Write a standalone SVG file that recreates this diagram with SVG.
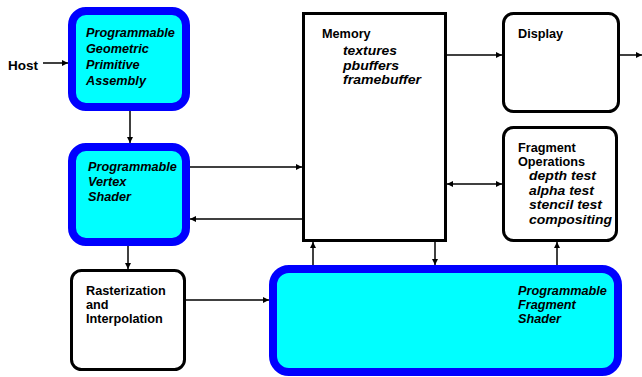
<svg xmlns="http://www.w3.org/2000/svg" width="642" height="377" viewBox="0 0 642 377">
  <defs>
    <marker id="ah" viewBox="0 0 10 10" refX="10" refY="5" markerWidth="8" markerHeight="6" markerUnits="userSpaceOnUse" orient="auto-start-reverse">
      <path d="M0,0 L10,5 L0,10 z" fill="#000"/>
    </marker>
    <style>
      .prog { fill: #00ffff; stroke: #0000ff; stroke-width: 8; }
      .plain { fill: #ffffff; stroke: #000; stroke-width: 3; }
      .lbl { font-family: "Liberation Sans", Arial, sans-serif; font-weight: bold; font-size: 12.7px; fill: #000; }
      .it { font-family: "Liberation Sans", Arial, sans-serif; font-weight: bold; font-style: italic; font-size: 12.7px; fill: #000; }
      .sub { font-family: "Liberation Sans", Arial, sans-serif; font-weight: bold; font-style: italic; font-size: 12.5px; fill: #000; }
      .wire { stroke: #000; stroke-width: 1.5; fill: none; marker-end: url(#ah); }
      .wire2 { stroke: #000; stroke-width: 1.5; fill: none; marker-end: url(#ah); marker-start: url(#ah); }
    </style>
  </defs>

  <g id="connectors">
    <line class="wire" x1="43" y1="63" x2="68" y2="63"/>
    <line class="wire" x1="130" y1="111" x2="130" y2="143"/>
    <line class="wire" x1="190" y1="167" x2="302" y2="167"/>
    <line class="wire" x1="302" y1="219" x2="190" y2="219"/>
    <line class="wire" x1="128" y1="246" x2="128" y2="269"/>
    <line class="wire" x1="186" y1="300" x2="269" y2="300"/>
    <line class="wire" x1="313" y1="265" x2="313" y2="242"/>
    <line class="wire" x1="435" y1="242" x2="435" y2="265"/>
    <line class="wire" x1="557" y1="265" x2="557" y2="242"/>
    <line class="wire2" x1="447" y1="184" x2="502" y2="184"/>
    <line class="wire" x1="447" y1="55" x2="502" y2="55"/>
    <line class="wire" x1="620" y1="55" x2="642" y2="55"/>
  </g>

  <g id="host">
    <text class="lbl" x="8" y="70" style="font-size:13.5px">Host</text>
  </g>

  <g id="primitive-assembly">
    <rect class="prog" x="72" y="11" width="114" height="96" rx="14"/>
    <text class="it" x="86" y="37">Programmable</text>
    <text class="it" x="86" y="53">Geometric</text>
    <text class="it" x="86" y="69">Primitive</text>
    <text class="it" x="86" y="85">Assembly</text>
  </g>

  <g id="vertex-shader">
    <rect class="prog" x="72" y="147" width="114" height="95" rx="14"/>
    <text class="it" x="88" y="171">Programmable</text>
    <text class="it" x="88" y="186">Vertex</text>
    <text class="it" x="88" y="201">Shader</text>
  </g>

  <g id="rasterization">
    <rect class="plain" x="71.5" y="270.5" width="113" height="99" rx="10"/>
    <text class="lbl" x="86" y="295">Rasterization</text>
    <text class="lbl" x="86" y="309">and</text>
    <text class="lbl" x="86" y="323">Interpolation</text>
  </g>

  <g id="memory">
    <rect class="plain" x="303.5" y="13.5" width="142" height="227"/>
    <text class="lbl" x="322" y="38">Memory</text>
    <!-- list entries are stretched slightly wider than their natural set width -->
    <text class="sub" x="343" y="55" textLength="54" lengthAdjust="spacingAndGlyphs">textures</text>
    <text class="sub" x="343" y="69.5" textLength="56" lengthAdjust="spacingAndGlyphs">pbuffers</text>
    <text class="sub" x="343" y="84" textLength="78" lengthAdjust="spacingAndGlyphs">framebuffer</text>
  </g>

  <g id="display">
    <rect class="plain" x="503.5" y="13.5" width="115" height="98" rx="10"/>
    <text class="lbl" x="518" y="38">Display</text>
  </g>

  <g id="fragment-operations">
    <rect class="plain" x="503.5" y="127.5" width="113" height="113" rx="10"/>
    <text class="lbl" x="518" y="152">Fragment</text>
    <text class="lbl" x="518" y="166">Operations</text>
    <text class="sub" x="529" y="180" textLength="67" lengthAdjust="spacingAndGlyphs">depth test</text>
    <text class="sub" x="529" y="194.5" textLength="65" lengthAdjust="spacingAndGlyphs">alpha test</text>
    <text class="sub" x="529" y="209" textLength="73" lengthAdjust="spacingAndGlyphs">stencil test</text>
    <text class="sub" x="529" y="223.5" textLength="83" lengthAdjust="spacingAndGlyphs">compositing</text>
  </g>

  <g id="fragment-shader">
    <rect class="prog" x="273" y="269" width="345" height="103" rx="16"/>
    <text class="it" x="518" y="295">Programmable</text>
    <text class="it" x="518" y="309">Fragment</text>
    <text class="it" x="518" y="323">Shader</text>
  </g>
</svg>
